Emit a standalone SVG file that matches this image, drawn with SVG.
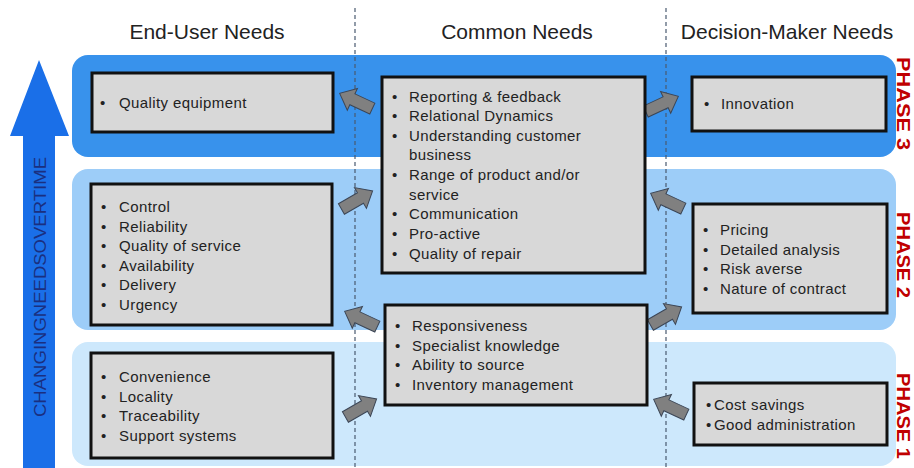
<svg xmlns="http://www.w3.org/2000/svg" xmlns:xlink="http://www.w3.org/1999/xlink" width="914" height="468" viewBox="0 0 914 468">
  <defs>
    <style>
      .hdr { font-family: "Liberation Sans", Arial, sans-serif; font-size: 21px; fill: #222; text-anchor: middle; }
      .box { fill: #d8d8d8; stroke: #111; stroke-width: 3; }
      .txt { font-family: "Liberation Sans", Arial, sans-serif; font-size: 15px; fill: #222; letter-spacing: 0.4px; }
      .phase { font-family: "Liberation Sans", Arial, sans-serif; font-size: 19px; font-weight: bold; fill: #c00000; }
      .side { font-family: "Liberation Sans", Arial, sans-serif; font-size: 16px; fill: #1a2f80; }
      .divider { stroke: #4a5a70; stroke-width: 1.2; stroke-dasharray: 4 3; fill: none; }
      .blk { fill: #808080; stroke: #3c4656; stroke-width: 1; }
    </style>
    <!-- block arrow pointing along +x, centred on the origin -->
    <polygon id="blk" class="blk" points="-18,-6 4,-6 4,-12 18,0 4,12 4,6 -18,6"/>
  </defs>

  <rect width="914" height="468" fill="#ffffff"/>

  <!-- column headings -->
  <g id="headings">
    <text class="hdr" x="207" y="39">End-User Needs</text>
    <text class="hdr" x="517" y="39">Common Needs</text>
    <text class="hdr" x="787" y="39">Decision-Maker Needs</text>
  </g>

  <!-- time axis arrow -->
  <g id="time-axis">
    <polygon points="39,60 69,136 55,136 55,468 23,468 23,136 10,136" fill="#1a6fe8"/>
    <text class="side" transform="translate(46,417) rotate(-90)" textLength="260" lengthAdjust="spacingAndGlyphs">CHANGINGNEEDSOVERTIME</text>
  </g>

  <!-- phase bands -->
  <g id="phase3">
    <rect x="72" y="55" width="824" height="102" rx="16" fill="#3892ec"/>
    <text class="phase" transform="translate(897,57) rotate(90)" textLength="93" lengthAdjust="spacingAndGlyphs">PHASE 3</text>
  </g>
  <g id="phase2">
    <rect x="72" y="169" width="824" height="161" rx="16" fill="#9dcdf8"/>
    <text class="phase" transform="translate(897,212) rotate(90)" textLength="86" lengthAdjust="spacingAndGlyphs">PHASE 2</text>
  </g>
  <g id="phase1">
    <rect x="72" y="342" width="824" height="124" rx="16" fill="#cde8fc"/>
    <text class="phase" transform="translate(897,373) rotate(90)" textLength="86" lengthAdjust="spacingAndGlyphs">PHASE 1</text>
  </g>

  <!-- column dividers -->
  <g id="dividers">
    <line class="divider" x1="355" y1="8" x2="355" y2="468"/>
    <line class="divider" x1="666" y1="8" x2="666" y2="468"/>
  </g>

  <!-- connectors between needs -->
  <g id="connectors">
    <use xlink:href="#blk" href="#blk" transform="translate(356,101) rotate(-155)"/>
    <use xlink:href="#blk" href="#blk" transform="translate(357,200) rotate(-30)"/>
    <use xlink:href="#blk" href="#blk" transform="translate(361,319) rotate(-155)"/>
    <use xlink:href="#blk" href="#blk" transform="translate(361,408) rotate(-30)"/>
    <use xlink:href="#blk" href="#blk" transform="translate(662,104) rotate(-25)"/>
    <use xlink:href="#blk" href="#blk" transform="translate(667,201) rotate(-155)"/>
    <use xlink:href="#blk" href="#blk" transform="translate(666,316) rotate(-30)"/>
    <use xlink:href="#blk" href="#blk" transform="translate(670,407) rotate(-155)"/>
  </g>

  <!-- end-user needs -->
  <g id="eu-phase3">
    <rect class="box" x="92" y="73" width="241" height="59"/>
    <text class="txt" x="100" y="108">•</text>
    <text class="txt" x="119" y="108">Quality equipment</text>
  </g>
  <g id="eu-phase2">
    <rect class="box" x="91" y="184" width="241" height="141"/>
    <g class="txt">
      <text x="101" y="212">•</text><text x="119" y="212">Control</text>
      <text x="101" y="232">•</text><text x="119" y="232">Reliability</text>
      <text x="101" y="251">•</text><text x="119" y="251">Quality of service</text>
      <text x="101" y="271">•</text><text x="119" y="271">Availability</text>
      <text x="101" y="290">•</text><text x="119" y="290">Delivery</text>
      <text x="101" y="310">•</text><text x="119" y="310">Urgency</text>
    </g>
  </g>
  <g id="eu-phase1">
    <rect class="box" x="91" y="353" width="242" height="105"/>
    <g class="txt">
      <text x="101" y="382">•</text><text x="119" y="382">Convenience</text>
      <text x="101" y="402">•</text><text x="119" y="402">Locality</text>
      <text x="101" y="421">•</text><text x="119" y="421">Traceability</text>
      <text x="101" y="441">•</text><text x="119" y="441">Support systems</text>
    </g>
  </g>

  <!-- common needs -->
  <g id="common-upper">
    <rect class="box" x="382" y="77" width="263" height="196"/>
    <g class="txt">
      <text x="392" y="102">•</text><text x="409" y="102">Reporting &amp; feedback</text>
      <text x="392" y="121">•</text><text x="409" y="121">Relational Dynamics</text>
      <text x="392" y="141">•</text><text x="409" y="141">Understanding customer</text>
      <text x="409" y="160">business</text>
      <text x="392" y="180">•</text><text x="409" y="180">Range of product and/or</text>
      <text x="409" y="200">service</text>
      <text x="392" y="219">•</text><text x="409" y="219">Communication</text>
      <text x="392" y="239">•</text><text x="409" y="239">Pro-active</text>
      <text x="392" y="259">•</text><text x="409" y="259">Quality of repair</text>
    </g>
  </g>
  <g id="common-lower">
    <rect class="box" x="385" y="305" width="262" height="100"/>
    <g class="txt">
      <text x="395" y="331">•</text><text x="412" y="331">Responsiveness</text>
      <text x="395" y="351">•</text><text x="412" y="351">Specialist knowledge</text>
      <text x="395" y="370">•</text><text x="412" y="370">Ability to source</text>
      <text x="395" y="390">•</text><text x="412" y="390">Inventory management</text>
    </g>
  </g>

  <!-- decision-maker needs -->
  <g id="dm-phase3">
    <rect class="box" x="692" y="77" width="194" height="54"/>
    <text class="txt" x="704" y="109">•</text>
    <text class="txt" x="721" y="109">Innovation</text>
  </g>
  <g id="dm-phase2">
    <rect class="box" x="693" y="204" width="194" height="109"/>
    <g class="txt">
      <text x="703" y="235">•</text><text x="720" y="235">Pricing</text>
      <text x="703" y="255">•</text><text x="720" y="255">Detailed analysis</text>
      <text x="703" y="274">•</text><text x="720" y="274">Risk averse</text>
      <text x="703" y="294">•</text><text x="720" y="294">Nature of contract</text>
    </g>
  </g>
  <g id="dm-phase1">
    <rect class="box" x="694" y="383" width="193" height="62"/>
    <g class="txt">
      <text x="706" y="410">•</text><text x="714" y="410">Cost savings</text>
      <text x="706" y="430">•</text><text x="714" y="430">Good administration</text>
    </g>
  </g>
</svg>
